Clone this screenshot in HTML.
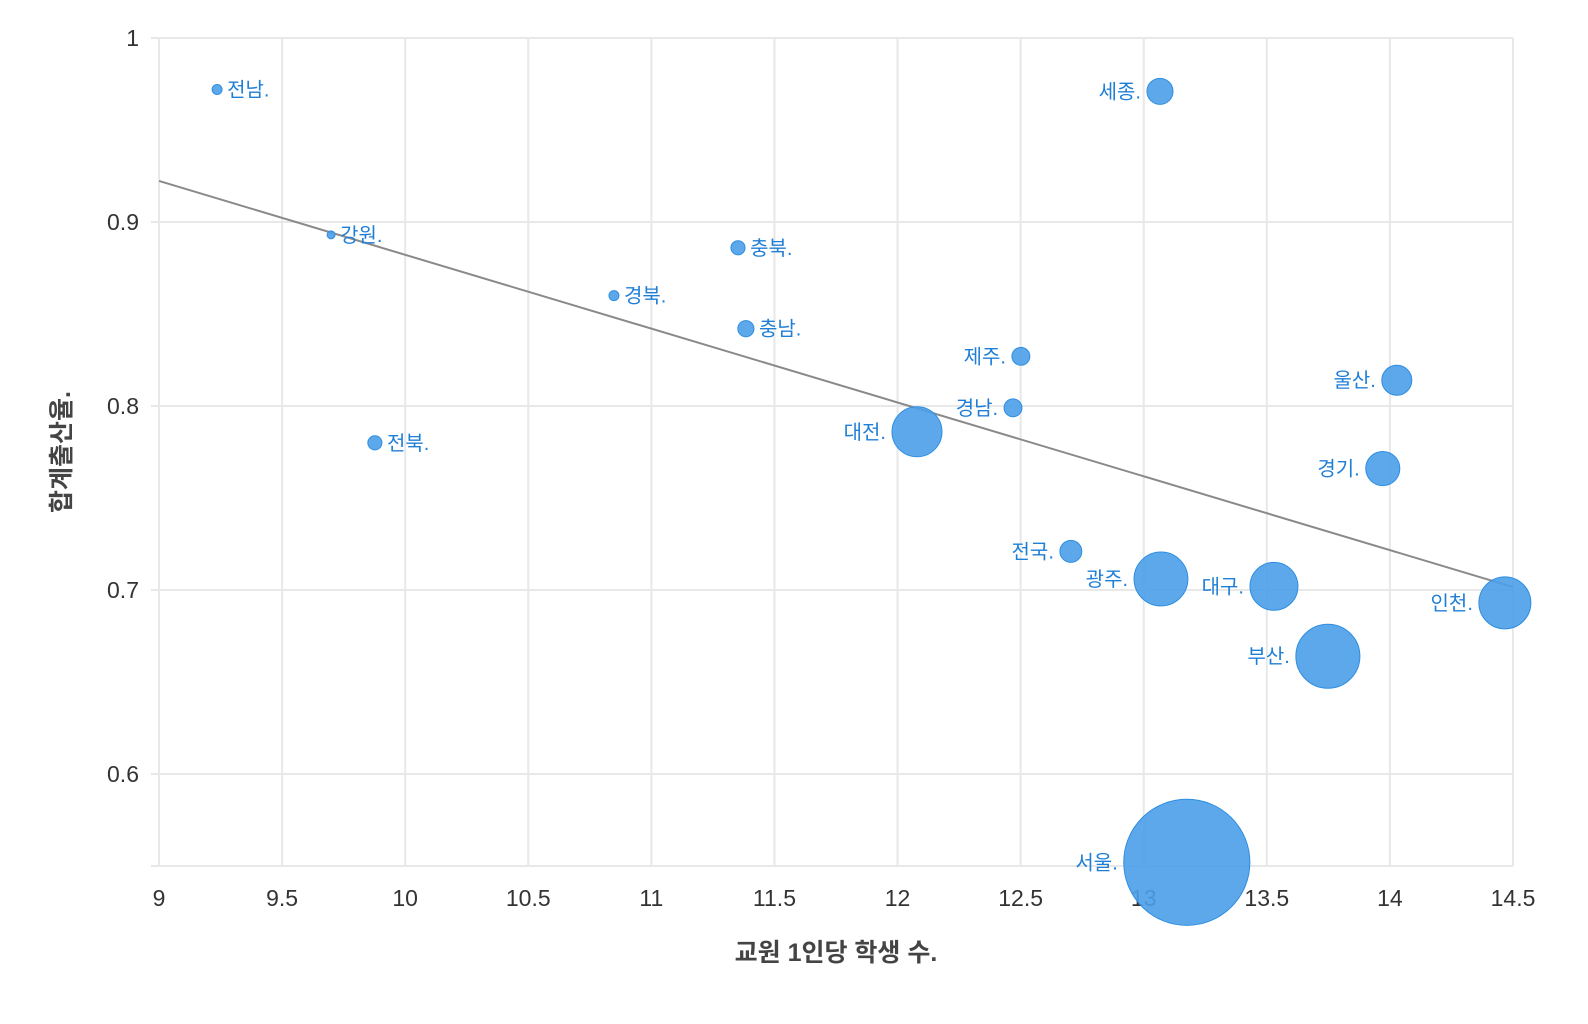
<!DOCTYPE html>
<html><head><meta charset="utf-8">
<style>
html,body{margin:0;padding:0;background:#fff;}
svg{display:block;font-family:"Liberation Sans","Noto Sans CJK KR",sans-serif;}
</style></head>
<body>
<svg id="chart" width="1588" height="1024" viewBox="0 0 1588 1024"></svg>
<script>
const regions=["전남","세종","강원","충북","경북","충남","제주","울산","경남","대전","전북","경기","전국","광주","대구","인천","부산","서울"];
const studentsPerTeacher=[9.236,13.066,9.699,11.352,10.848,11.384,12.501,14.028,12.469,12.079,9.877,13.971,12.704,13.070,13.529,14.467,13.748,13.175];
const fertility=[0.972,0.971,0.893,0.886,0.860,0.842,0.827,0.814,0.799,0.786,0.780,0.766,0.721,0.706,0.702,0.693,0.664,0.552];
const bubbleSize=[1,6.8,0.64,2,1,2.6,3.2,9,3.2,25,2,11.6,4.8,29,23,27,41,159];
const labelRight=[1,0,1,1,1,1,0,0,0,0,1,0,0,0,0,0,0,0];
const xTicks=[9,9.5,10,10.5,11,11.5,12,12.5,13,13.5,14,14.5];
const yTicks=[0.6,0.7,0.8,0.9,1];
const trendX=[9,14.5];
const trendY=[0.9223,0.7016];

const NS="http://www.w3.org/2000/svg";
const svg=document.getElementById('chart');
const X0=159,X1=1513,Y0=866,Y1=38;
const xs=v=>X0+(v-9)/(14.5-9)*(X1-X0);
const ys=v=>Y0-(v-0.55)/(1-0.55)*(Y0-Y1);
function mk(t,a){const e=document.createElementNS(NS,t);for(const k in a)e.setAttribute(k,a[k]);svg.appendChild(e);return e;}

xTicks.forEach(t=>{
  const l=mk('line',{x1:xs(t),x2:xs(t),y1:Y1,y2:Y0,stroke:'#e8e8e8','stroke-width':2});
  
  
  const tx=mk('text',{x:xs(t),y:906,'text-anchor':'middle','font-size':23,fill:'#333'});
  tx.textContent=String(t);
  
  
});
yTicks.forEach(t=>{
  const l=mk('line',{x1:X0-8,x2:X1,y1:ys(t),y2:ys(t),stroke:'#e8e8e8','stroke-width':2});
  
  
  const tx=mk('text',{x:139,y:ys(t)+8,'text-anchor':'end','font-size':23,fill:'#333'});
  tx.textContent=String(t);
  
  
});
const base=mk('line',{x1:X0-8,x2:X1,y1:Y0,y2:Y0,stroke:'#e8e8e8','stroke-width':2});



const tl=mk('line',{x1:xs(trendX[0]),y1:ys(trendY[0]),x2:xs(trendX[1]),y2:ys(trendY[1]),stroke:'#8a8a8a','stroke-width':2});



regions.forEach((r,i)=>{
  const cx=xs(studentsPerTeacher[i]),cy=ys(fertility[i]);
  const rad=5*Math.sqrt(bubbleSize[i]);
  const c=mk('circle',{cx:cx,cy:cy,r:rad,fill:'#4a9fe8','fill-opacity':0.9,stroke:'#2f8ee0','stroke-width':1});
  
  
  const right=labelRight[i]===1;
  const tx=mk('text',{x:right?cx+rad+5:cx-rad-6,y:cy+7,'text-anchor':right?'start':'end','font-size':20,fill:'#1f7fd6'});
  tx.textContent=r+'.';
  
  
});

const xt=mk('text',{x:836,y:961,'text-anchor':'middle','font-size':25,'font-weight':'bold',fill:'#444'});
xt.textContent='교원 1인당 학생 수.';


const yt=mk('text',{x:0,y:0,'text-anchor':'middle','font-size':25,'font-weight':'bold',fill:'#444',transform:'translate(70,452) rotate(-90)'});
yt.textContent='합계출산율.';


</script>
</body></html>
